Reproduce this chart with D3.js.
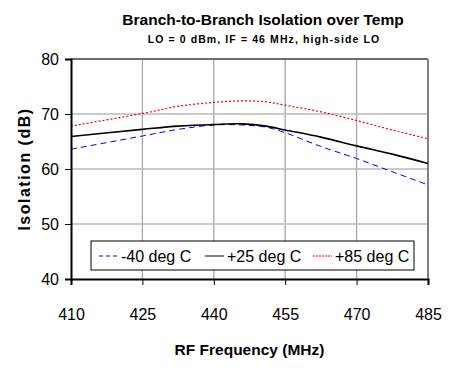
<!DOCTYPE html>
<html>
<head>
<meta charset="utf-8">
<script src="https://cdn.jsdelivr.net/npm/d3@7"></script>
<style>
  body { margin: 0; background: #fff; }
  text { font-family: Arial, "Liberation Sans", sans-serif; }
</style>
</head>
<body>
<div id="chart"></div>
<script>
// data
var freqs = [410, 425, 432.5, 440, 446, 451, 455, 462.5, 470, 477.5, 485];
var iso_m40 = [63.6, 66.0, 67.2, 68.0, 68.0, 67.6, 66.6, 64.1, 61.9, 59.5, 57.1];
var iso_p25 = [65.9, 67.2, 67.8, 68.1, 68.2, 67.8, 67.1, 65.8, 64.2, 62.7, 61.0];
var iso_p85 = [67.8, 70.1, 71.4, 72.1, 72.4, 72.2, 71.6, 70.4, 68.8, 67.1, 65.5];
var x_ticks = [410, 425, 440, 455, 470, 485];
var y_ticks = [40, 50, 60, 70, 80];
var series_names = ["-40 deg C", "+25 deg C", "+85 deg C"];

var width = 454, height = 368;
var margin = { top: 59, right: 26, bottom: 89, left: 71 };
var inner_w = width - margin.left - margin.right,
  inner_h = height - margin.top - margin.bottom;

var svg = d3.select("#chart").append("svg")
  .attr("width", width)
  .attr("height", height);

var x = d3.scaleLinear().domain([410, 485]).range([0, inner_w]);
var y = d3.scaleLinear().domain([40, 80]).range([inner_h, 0]);

var g = svg.append("g")
  .attr("transform", "translate(" + margin.left + "," + margin.top + ")");

// grid
g.selectAll(".vgrid").data(x_ticks.slice(1, -1)).enter().append("line")
  .attr("x1", d => x(d)).attr("x2", d => x(d))
  .attr("y1", 0).attr("y2", inner_h)
  .style("stroke", "#a6a6a6").style("stroke-width", 1.3);
g.selectAll(".hgrid").data(y_ticks.slice(1, -1)).enter().append("line")
  .attr("x1", 0).attr("x2", inner_w)
  .attr("y1", d => y(d)).attr("y2", d => y(d))
  .style("stroke", "#b8b8b8").style("stroke-width", 1.3);

// frame top / right
g.append("line").attr("x1", 0).attr("x2", inner_w).attr("y1", y(80)).attr("y2", y(80))
  .style("stroke", "#6e6e6e").style("stroke-width", 2);
g.append("line").attr("x1", x(485)).attr("x2", x(485)).attr("y1", 0).attr("y2", inner_h)
  .style("stroke", "#808080").style("stroke-width", 2);

// lines
var series = [
  { name: series_names[0], values: iso_m40, color: "#0000ff", dash: "6,4", w: 1 },
  { name: series_names[1], values: iso_p25, color: "#000000", dash: null, w: 1.6 },
  { name: series_names[2], values: iso_p85, color: "#ff0000", dash: "2,2", w: 1.2 }
];
var line = d3.line()
  .x((d, i) => x(freqs[i]))
  .y(d => y(d))
  .curve(d3.curveCatmullRom.alpha(0.5));
series.forEach(function (s) {
  g.append("path")
    .attr("d", line(s.values))
    .style("fill", "none")
    .style("stroke", s.color)
    .style("stroke-width", s.w)
    .style("stroke-dasharray", s.dash);
});

// axes
var x_axis = g.append("g").attr("transform", "translate(0," + inner_h + ")")
  .call(d3.axisBottom(x).tickValues(x_ticks).tickSize(6).tickPadding(24).tickFormat(d3.format("d")));
var y_axis = g.append("g")
  .call(d3.axisLeft(y).tickValues(y_ticks).tickSize(6).tickPadding(6).tickFormat(d3.format("d")));
[x_axis, y_axis].forEach(function (a) {
  a.select(".domain").style("stroke", "#000").style("stroke-width", 2);
  a.selectAll(".tick line").style("stroke", "#000").style("stroke-width", 1);
  a.selectAll(".tick text").style("font-size", "16px").style("fill", "#000")
    .style("font-family", "Arial, 'Liberation Sans', sans-serif");
});

// legend
var lg = g.append("g").attr("transform", "translate(20,182)");
lg.append("rect").attr("width", 323).attr("height", 29)
  .style("fill", "#fff").style("stroke", "#000").style("stroke-width", 1);
var leg_x = [8, 114, 222];
series.forEach(function (s, i) {
  lg.append("line")
    .attr("x1", leg_x[i]).attr("x2", leg_x[i] + 19)
    .attr("y1", 15).attr("y2", 15)
    .style("stroke", s.color).style("stroke-width", 1)
    .style("stroke-dasharray", s.dash ? (i == 0 ? "4,3" : "2,1") : null);
  lg.append("text")
    .attr("x", leg_x[i] + 22)
    .attr("y", 21)
    .style("font-size", "16px")
    .text(s.name);
});

// titles
svg.append("text")
  .attr("x", 263).attr("y", 25)
  .style("text-anchor", "middle").style("font-weight", "bold").style("font-size", "15.5px")
  .text("Branch-to-Branch Isolation over Temp");
svg.append("text")
  .attr("x", 264).attr("y", 43)
  .style("text-anchor", "middle").style("font-weight", "bold").style("font-size", "10.5px")
  .style("letter-spacing", "1.1px")
  .text("LO = 0 dBm, IF = 46 MHz, high-side LO");
svg.append("text")
  .attr("x", margin.left + inner_w / 2).attr("y", 355)
  .style("text-anchor", "middle").style("font-weight", "bold").style("font-size", "15.5px")
  .text("RF Frequency (MHz)");
svg.append("text")
  .attr("transform", "translate(30," + (margin.top + inner_h / 2) + ") rotate(-90)")
  .style("text-anchor", "middle").style("font-weight", "bold").style("font-size", "16px")
  .style("letter-spacing", "1.5px")
  .text("Isolation (dB)");
</script>
</body>
</html>
